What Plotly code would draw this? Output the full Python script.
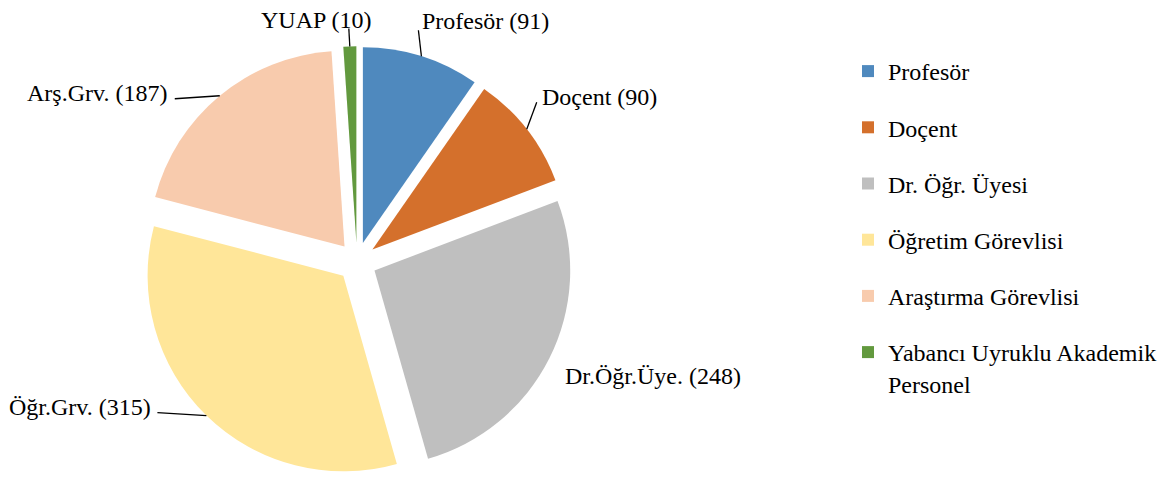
import math
import plotly.graph_objects as go

# ---- data ----
categories = ["Profesör", "Doçent", "Dr. Öğr. Üyesi", "Öğretim Görevlisi",
              "Araştırma Görevlisi", "Yabancı Uyruklu Akademik<br>Personel"]
short_labels = ["Profesör", "Doçent", "Dr.Öğr.Üye.", "Öğr.Grv.", "Arş.Grv.", "YUAP"]
values = [91, 90, 248, 315, 187, 10]

# ---- styles ----
colors = ["#4F89BE", "#D4702C", "#BFBFBF", "#FFE699", "#F8CBAD", "#62993E"]
FONT = "Liberation Serif"
FS = 24
W, H = 1169, 477
PULL = 0.1
OFF = 8  # page body margin offset


def px(x):
    return (x - OFF) / W


def py(y):
    return 1 - (y - OFF) / H


# pie domain in window pixels
dom_x0, dom_x1 = 141.7, 572.3
dom_y0, dom_y1 = 46.3, 477.0
dom = dict(x=[px(dom_x0), px(dom_x1)], y=[py(dom_y1), py(dom_y0)])

fig = go.Figure()
fig.add_trace(go.Pie(
    labels=categories, values=values, sort=False, direction="clockwise",
    rotation=0, pull=[PULL] * len(values), textinfo="none", hoverinfo="label+value",
    marker=dict(colors=colors, line=dict(width=0)), domain=dom, showlegend=False,
))

# legend entries (one per group so spacing can match)
for cat, col in zip(categories, colors):
    fig.add_trace(go.Scatter(
        x=[None], y=[None], mode="markers", name=cat, legendgroup=cat,
        marker=dict(symbol="square", size=12, color=col),
    ))

# ---- label geometry derived from pie values ----
cx = (dom_x0 + dom_x1) / 2
cy = (dom_y0 + dom_y1) / 2
r = min(dom_x1 - dom_x0, dom_y1 - dom_y0) / 2 / (1 + PULL)
total = sum(values)

# label placement relative to slice edge point: (line end dx, dy, text x dx, text y dy, xanchor)
label_layout = [
    (-3, -26, 0, -35, "left"),     # Profesör
    (10, -27, 14, -32, "left"),    # Doçent
    (None, None, 15, 18, "left"),  # Dr
    (-49, -3, -54, -9, "right"),   # Öğr
    (-45, 3, -52, -3, "right"),    # Arş
    (-1, -18, -34, -26, "center"), # YUAP
]

shapes = []
annotations = []
cum = 0
for v, sl, lay in zip(values, short_labels, label_layout):
    mid = (cum + v / 2) / total * 2 * math.pi
    cum += v
    ex = cx + r * (1 + PULL) * math.sin(mid)
    ey = cy - r * (1 + PULL) * math.cos(mid)
    ldx, ldy, tdx, tdy, anchor = lay
    if ldx is not None:
        shapes.append(dict(type="line", xref="paper", yref="paper",
                           x0=px(ex), y0=py(ey), x1=px(ex + ldx), y1=py(ey + ldy),
                           line=dict(color="black", width=1.3)))
    annotations.append(dict(
        text=f"{sl} ({v})", x=px(ex + tdx), y=py(ey + tdy), xref="paper", yref="paper",
        xanchor=anchor, yanchor="middle", showarrow=False, borderpad=0,
        font=dict(family=FONT, size=FS, color="black"),
    ))

fig.update_layout(
    width=W, height=H, margin=dict(l=0, r=0, t=0, b=0),
    paper_bgcolor="white", plot_bgcolor="white",
    xaxis=dict(visible=False), yaxis=dict(visible=False),
    shapes=shapes, annotations=annotations,
    font=dict(family=FONT, size=FS, color="black"),
    legend=dict(x=px(848), y=py(49), xanchor="left", yanchor="top",
                traceorder="grouped", tracegroupgap=22, valign="top",
                itemsizing="constant", font=dict(family=FONT, size=FS, color="black"),
                bgcolor="rgba(0,0,0,0)"),
)

fig.write_html("out.html")
